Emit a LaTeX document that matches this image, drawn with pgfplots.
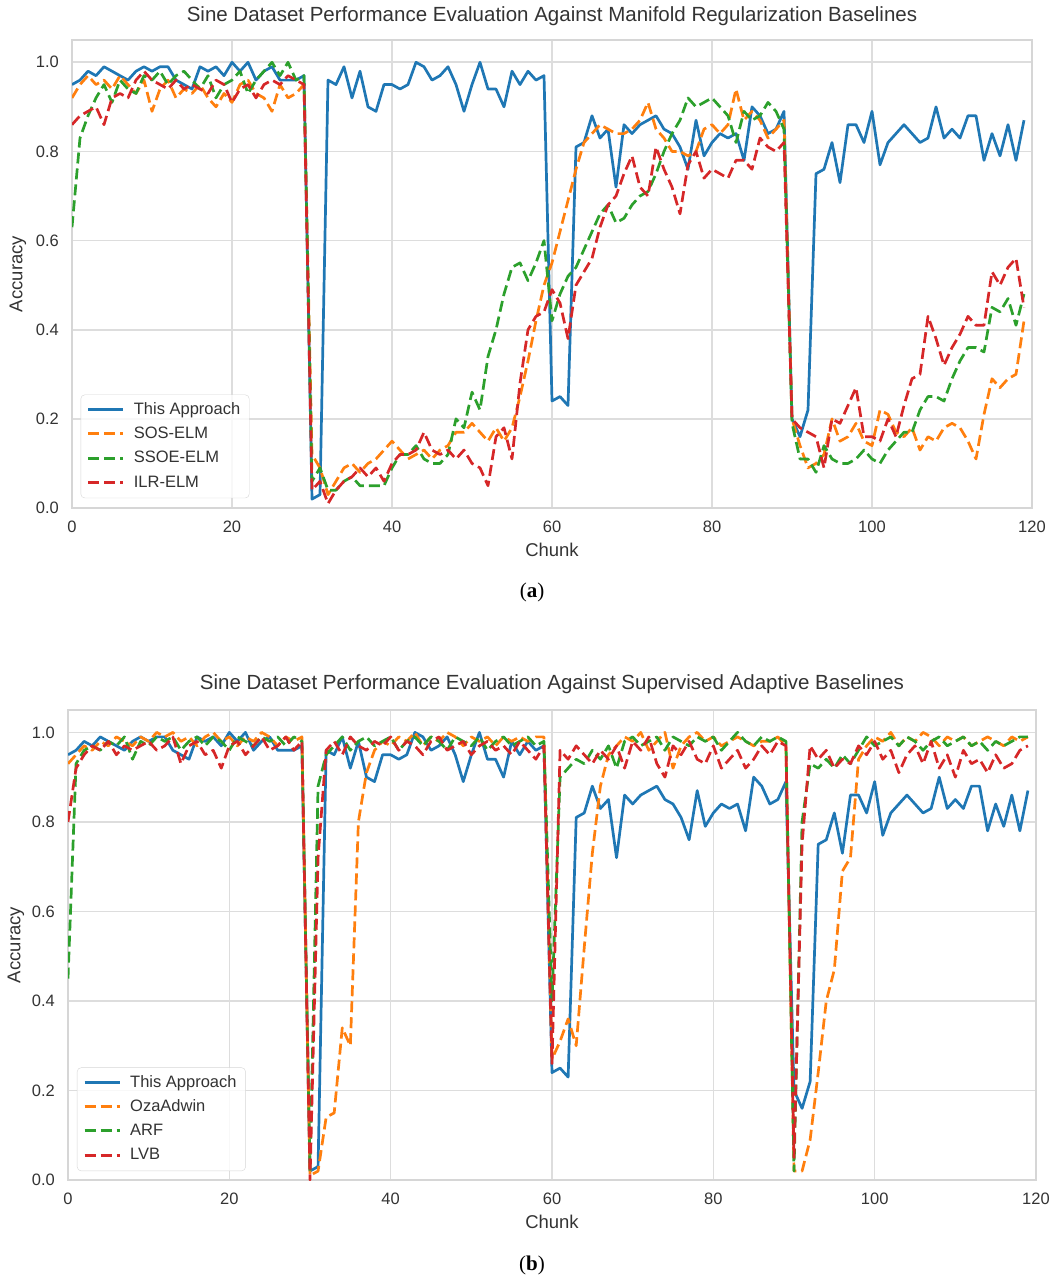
\documentclass[border=0pt]{standalone}
\usepackage{fontspec}
\setmainfont{Liberation Sans}
\newfontfamily\capfont{Liberation Serif}
\usepackage{pgfplots}
\usepackage{pgfplotstable}
\pgfplotsset{compat=1.18}

\definecolor{tabblue}{HTML}{1F77B4}
\definecolor{taborange}{HTML}{FF7F0E}
\definecolor{tabgreen}{HTML}{2CA02C}
\definecolor{tabred}{HTML}{D62728}
\definecolor{gridgray}{HTML}{DDDDDD}
\definecolor{framegray}{HTML}{D6D6D6}
\definecolor{textgray}{HTML}{333333}

% accuracy per chunk: this approach, SOS-ELM, SSOE-ELM, ILR-ELM, OzaAdwin, ARF, LVB
\pgfplotstableread{
x this sos ssoe ilr oza arf lvb
0 0.95 0.92 0.63 0.86 0.93 0.45 0.80
1 0.96 0.95 0.83 0.88 0.95 0.93 0.92
2 0.98 0.97 0.88 0.89 0.97 0.96 0.95
3 0.97 0.95 0.92 0.90 0.96 0.97 0.97
4 0.99 0.96 0.95 0.86 0.98 0.96 0.96
5 0.98 0.94 0.91 0.92 0.97 0.98 0.98
6 0.97 0.97 0.96 0.93 0.99 0.97 0.95
7 0.96 0.95 0.94 0.92 0.98 0.99 0.97
8 0.98 0.93 0.93 0.96 0.97 0.94 0.96
9 0.99 0.96 0.97 0.98 0.99 0.98 0.97
10 0.98 0.89 0.96 0.96 0.98 0.97 0.98
11 0.99 0.94 0.98 0.95 1.00 0.99 0.96
12 0.99 0.96 0.95 0.94 0.99 0.98 0.97
13 0.96 0.92 0.97 0.96 1.00 0.99 0.99
14 0.95 0.94 0.98 0.94 0.98 0.96 0.93
15 0.94 0.93 0.96 0.95 0.99 0.98 0.97
16 0.99 0.95 0.94 0.94 0.97 0.99 0.98
17 0.98 0.92 0.97 0.93 0.99 0.97 0.95
18 0.99 0.90 0.92 0.96 1.00 0.99 0.96
19 0.97 0.93 0.95 0.95 0.98 0.98 0.92
20 1.00 0.91 0.96 0.91 0.99 0.96 0.97
21 0.98 0.95 0.98 0.94 0.97 0.99 0.98
22 1.00 0.96 0.93 0.95 0.99 0.98 0.95
23 0.96 0.93 0.96 0.92 0.98 0.97 0.97
24 0.98 0.92 0.98 0.95 1.00 0.99 0.99
25 0.99 0.89 1.00 0.96 0.99 0.98 0.96
26 0.96 0.95 0.97 0.95 0.97 0.99 0.97
27 0.96 0.92 1.00 0.97 0.99 0.97 0.99
28 0.96 0.93 0.96 0.96 0.98 0.99 0.96
29 0.97 0.95 0.97 0.95 0.99 0.98 0.98
30 0.02 0.12 0.06 0.04 0.01 0.02 0.00
31 0.03 0.09 0.09 0.06 0.02 0.88 0.72
32 0.96 0.03 0.04 0.01 0.14 0.95 0.96
33 0.95 0.06 0.04 0.04 0.15 0.97 0.98
34 0.99 0.09 0.06 0.06 0.34 0.99 0.95
35 0.92 0.10 0.07 0.07 0.30 0.96 0.99
36 0.98 0.08 0.05 0.09 0.80 0.98 0.97
37 0.90 0.10 0.05 0.07 0.91 0.99 0.96
38 0.89 0.11 0.05 0.09 0.96 0.97 0.98
39 0.95 0.13 0.05 0.06 0.98 0.98 0.97
40 0.95 0.15 0.09 0.10 0.97 0.99 0.99
41 0.94 0.13 0.12 0.12 0.99 0.96 0.96
42 0.95 0.11 0.12 0.12 0.98 0.98 0.98
43 1.00 0.12 0.14 0.13 1.00 0.99 0.97
44 0.99 0.13 0.11 0.17 0.97 0.97 0.95
45 0.96 0.11 0.10 0.13 0.99 0.99 0.98
46 0.97 0.13 0.10 0.12 0.98 0.98 0.99
47 0.99 0.14 0.12 0.13 1.00 0.96 0.96
48 0.95 0.17 0.20 0.11 0.99 0.99 0.97
49 0.89 0.17 0.18 0.13 0.97 0.98 0.98
50 0.95 0.19 0.26 0.10 0.99 0.97 0.95
51 1.00 0.17 0.22 0.09 0.98 0.99 0.97
52 0.94 0.15 0.34 0.05 0.99 0.96 0.98
53 0.94 0.18 0.40 0.16 0.97 0.98 0.96
54 0.90 0.15 0.48 0.18 0.99 0.99 0.97
55 0.98 0.18 0.54 0.11 0.98 0.97 0.95
56 0.95 0.25 0.55 0.28 0.99 0.98 0.98
57 0.98 0.33 0.51 0.40 0.98 0.99 0.96
58 0.96 0.42 0.55 0.43 0.99 0.97 0.94
59 0.97 0.50 0.60 0.44 0.99 0.98 0.97
60 0.24 0.55 0.42 0.49 0.27 0.40 0.26
61 0.25 0.62 0.48 0.46 0.31 0.90 0.96
62 0.23 0.69 0.52 0.38 0.36 0.92 0.94
63 0.81 0.76 0.54 0.50 0.30 0.94 0.97
64 0.82 0.82 0.58 0.53 0.52 0.93 0.95
65 0.88 0.84 0.62 0.56 0.73 0.96 0.93
66 0.83 0.86 0.66 0.63 0.88 0.94 0.96
67 0.85 0.85 0.68 0.68 0.95 0.97 0.94
68 0.72 0.84 0.64 0.70 0.97 0.92 0.97
69 0.86 0.84 0.65 0.75 0.99 0.98 0.92
70 0.84 0.85 0.68 0.79 0.98 0.99 0.98
71 0.86 0.87 0.70 0.72 1.00 0.97 0.96
72 0.87 0.91 0.71 0.70 0.96 0.98 0.99
73 0.88 0.85 0.75 0.81 0.98 0.99 0.93
74 0.85 0.83 0.80 0.76 1.00 0.96 0.90
75 0.84 0.80 0.84 0.72 0.92 0.99 0.97
76 0.81 0.80 0.87 0.66 0.97 0.98 0.95
77 0.76 0.79 0.92 0.77 0.99 0.97 0.98
78 0.87 0.80 0.90 0.80 1.00 0.99 0.94
79 0.79 0.85 0.91 0.74 0.98 0.98 0.93
80 0.82 0.86 0.92 0.76 0.99 0.99 0.97
81 0.84 0.84 0.90 0.75 0.97 0.96 0.92
82 0.83 0.86 0.88 0.74 0.98 0.98 0.94
83 0.84 0.94 0.82 0.78 0.99 1.00 0.96
84 0.78 0.87 0.89 0.78 0.98 0.98 0.92
85 0.90 0.89 0.87 0.76 0.97 0.97 0.94
86 0.88 0.87 0.88 0.83 0.98 0.99 0.97
87 0.84 0.83 0.91 0.81 0.98 0.98 0.95
88 0.85 0.85 0.89 0.80 0.99 0.99 0.98
89 0.89 0.87 0.85 0.82 0.97 0.98 0.97
90 0.20 0.20 0.19 0.20 0.02 0.02 0.05
91 0.16 0.14 0.11 0.18 0.02 0.80 0.75
92 0.22 0.09 0.11 0.17 0.09 0.93 0.97
93 0.75 0.10 0.08 0.16 0.24 0.92 0.94
94 0.76 0.12 0.14 0.09 0.40 0.94 0.96
95 0.82 0.20 0.11 0.20 0.47 0.92 0.92
96 0.73 0.15 0.10 0.19 0.69 0.95 0.94
97 0.86 0.16 0.10 0.23 0.72 0.93 0.93
98 0.86 0.19 0.11 0.27 0.94 0.96 0.97
99 0.82 0.15 0.13 0.16 0.97 0.99 0.95
100 0.89 0.14 0.11 0.16 0.99 0.97 0.98
101 0.77 0.22 0.10 0.15 0.98 0.98 0.94
102 0.82 0.21 0.13 0.20 1.00 0.99 0.96
103 0.84 0.17 0.15 0.16 0.97 0.97 0.91
104 0.86 0.16 0.17 0.23 0.99 0.99 0.95
105 0.84 0.18 0.17 0.29 0.98 0.98 0.97
106 0.82 0.13 0.22 0.30 1.00 0.96 0.93
107 0.83 0.16 0.25 0.43 0.99 0.98 0.98
108 0.90 0.15 0.25 0.38 0.97 0.99 0.92
109 0.83 0.18 0.24 0.32 0.99 0.97 0.95
110 0.85 0.19 0.29 0.36 0.98 0.98 0.90
111 0.83 0.18 0.33 0.39 0.99 0.99 0.96
112 0.88 0.15 0.36 0.43 0.97 0.97 0.93
113 0.88 0.11 0.36 0.41 0.98 0.98 0.94
114 0.78 0.21 0.35 0.41 0.99 0.96 0.91
115 0.84 0.29 0.45 0.53 0.98 0.98 0.95
116 0.79 0.27 0.44 0.50 0.97 0.97 0.92
117 0.86 0.29 0.47 0.54 0.99 0.98 0.93
118 0.78 0.30 0.41 0.56 0.98 0.99 0.96
119 0.87 0.42 0.48 0.45 0.99 0.99 0.97
}\accdata

\pgfplotsset{
  sinepanel/.style={
    scale only axis,
    xmin=0, xmax=120, ymin=0, ymax=1.05,
    axis line style={draw=framegray, line width=1.6bp},
    grid=major,
    major grid style={draw=gridgray, line width=1.6bp},
    major tick length=0pt,
    xtick={0,20,40,60,80,100,120},
    xticklabels={0,20,40,60,80,100,120},
    ytick={0,0.2,0.4,0.6,0.8,1.0},
    yticklabels={0.0,0.2,0.4,0.6,0.8,1.0},
    tick label style={font=\fontsize{16.5bp}{18bp}\selectfont, text=textgray},
    xticklabel style={anchor=center, yshift=-19bp},
    yticklabel style={anchor=east, inner sep=0pt, xshift=-13bp},
    label style={font=\fontsize{18.5bp}{21bp}\selectfont, text=textgray},
    title style={font=\fontsize{20.5bp}{24bp}\selectfont, text=textgray, anchor=center},
    xlabel={Chunk}, ylabel={Accuracy},
    no markers,
    every axis plot/.append style={line width=2.7bp, line join=round},
    legend cell align=left,
    legend image code/.code={\draw[##1, line width=3bp] (0bp,0.5bp) -- (35bp,0.5bp);},
    legend style={
      anchor=south west,
      draw=framegray, rounded corners=4bp,
      fill=white, fill opacity=0.8, draw opacity=1, text opacity=1,
      font=\fontsize{16.5bp}{18bp}\selectfont, text=textgray,
      inner xsep=6bp, inner ysep=3bp, row sep=0bp, column sep=6bp,
      nodes={inner xsep=3bp, inner ysep=4.4bp, text height=12bp, text depth=3.5bp},
    },
  },
  dashedline/.style={dash pattern=on 11bp off 5bp},
}

\begin{document}
\begin{tikzpicture}
\useasboundingbox (0,0) rectangle (1052bp,-1280bp);

\begin{axis}[sinepanel,
  at={(72bp,-508bp)}, anchor=south west, width=960bp, height=468bp,
  title={Sine Dataset Performance Evaluation Against Manifold Regularization Baselines},
  title style={at={(axis description cs:0.5,1.0385)}},
  xlabel style={at={(axis description cs:0.5,-0.0897)}, anchor=center},
  ylabel style={at={(axis description cs:-0.05625,0.5)}, anchor=center},
  legend style={at={(0.009,0.021)}},
]
\addplot[tabblue] table[x=x, y=this] {\accdata};
\addplot[taborange, dashedline] table[x=x, y=sos] {\accdata};
\addplot[tabgreen, dashedline] table[x=x, y=ssoe] {\accdata};
\addplot[tabred, dashedline] table[x=x, y=ilr] {\accdata};
\legend{This Approach, SOS-ELM, SSOE-ELM, ILR-ELM}
\end{axis}

\node[font=\capfont\fontsize{21bp}{24bp}\selectfont, text=black] at (532bp,-592bp) {(\textbf{a})};

\begin{axis}[sinepanel,
  at={(68bp,-1180bp)}, anchor=south west, width=968bp, height=470bp,
  title={Sine Dataset Performance Evaluation Against Supervised Adaptive Baselines},
  title style={at={(axis description cs:0.5,1.0426)}},
  xlabel style={at={(axis description cs:0.5,-0.0894)}, anchor=center},
  ylabel style={at={(axis description cs:-0.0537,0.5)}, anchor=center},
  legend style={at={(0.0093,0.019)}},
]
\addplot[tabblue] table[x=x, y=this] {\accdata};
\addplot[taborange, dashedline] table[x=x, y=oza] {\accdata};
\addplot[tabgreen, dashedline] table[x=x, y=arf] {\accdata};
\addplot[tabred, dashedline] table[x=x, y=lvb] {\accdata};
\legend{This Approach, OzaAdwin, ARF, LVB}
\end{axis}

\node[font=\capfont\fontsize{21bp}{24bp}\selectfont, text=black] at (532bp,-1265bp) {(\textbf{b})};
\end{tikzpicture}
\end{document}
